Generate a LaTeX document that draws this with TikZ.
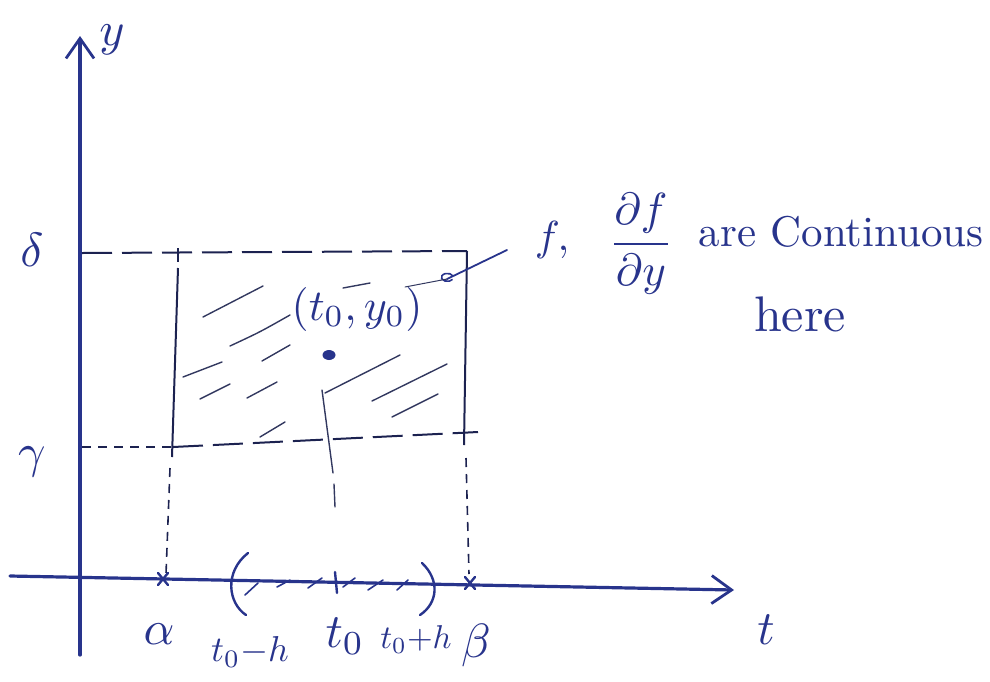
\documentclass[tikz,border=0pt]{standalone}
\usepackage{amsmath}
\usetikzlibrary{arrows.meta}
\definecolor{ink}{RGB}{40,52,140}
\definecolor{dark}{RGB}{28,34,80}
\definecolor{hatch}{RGB}{50,56,95}
\tikzset{
  axisline/.style={ink, line width=3.2pt, line cap=round},
  axtip/.style={-{Straight Barb[length=20pt,width=28pt,line width=2.8pt]}},
  rectline/.style={dark, line width=2pt},
  longdash/.style={rectline, dash pattern=on 30pt off 10pt},
  dropdash/.style={rectline, line width=1.6pt, dash pattern=on 9pt off 7pt},
  hatchline/.style={hatch, line width=1.4pt, line cap=round},
  marktick/.style={ink, line width=2.4pt, line cap=round},
  lbl/.style={ink, inner sep=0pt, scale=4.8},
  txt/.style={ink, inner sep=0pt, scale=4.2},
}
\begin{document}
\begin{tikzpicture}[x=1pt,y=-1pt]
\useasboundingbox (0,0) rectangle (990,681);
% axes
\coordinate (ybot) at (80,655);
\coordinate (ytop) at (80,36);
\coordinate (tleft) at (10,576);
\coordinate (tright) at (734,590);
\draw[axisline, axtip] (ybot) -- (ytop);
\draw[axisline, axtip] (tleft) -- (tright);
\node[lbl] (ylab) at (112,40) {$y$};
\node[lbl] (tlab) at (766,630) {$t$};
% left labels
\node[lbl] (delta) at (32,250) {$\delta$};
\node[lbl] (gamma) at (32,462) {$\gamma$};
% rectangle corners
\coordinate (TL) at (82,253);
\coordinate (TR) at (467,251);
\coordinate (BRr) at (464,445);
\coordinate (LT) at (178,268);
\coordinate (LB) at (172,457);
\coordinate (BL) at (82,447);
\coordinate (BM) at (173,447);
\coordinate (BR) at (478,432);
% top dashed line
\draw[longdash] (TL) -- (TR);
% right side
\draw[rectline] (TR) -- (BRr);
\draw[dropdash] (466,458) -- (469,574);
% left side
\draw[rectline] (178,248) -- (178,262);
\draw[rectline] (LT) -- (LB);
\draw[dropdash] (170,468) -- (166,574);
% bottom line
\draw[dropdash] (BL) -- (BM);
\draw[longdash] (BM) -- (BR);
% middle vertical
\draw[hatchline] (322,390) -- (333,473);
\draw[hatchline] (334,484) -- (335,507);
% hatching
\draw[hatchline] (203,317) -- (263,286);
\draw[hatchline] (230,346) .. controls (260,332) .. (290,315);
\draw[hatchline] (343,288) -- (370,283);
\draw[hatchline] (183,377) -- (222,362);
\draw[hatchline] (262,361) -- (290,345);
\draw[hatchline] (200,399) -- (230,384);
\draw[hatchline] (247,398) -- (277,382);
\draw[hatchline] (260,437) -- (285,422);
\draw[hatchline] (325,393) -- (400,355);
\draw[hatchline] (372,401) -- (447,364);
\draw[hatchline] (392,417) -- (438,394);
% initial point
\fill[ink] (329,355) ellipse (6.5pt and 5pt);
\node[lbl, scale=4.4/4.8] (pt) at (357,309) {$(t_0,y_0)$};
% annotation text
\node[txt] (fcomma) at (552,240) {$f,$};
\node[txt, scale=4.5/4.2] (frac) at (641,244) {$\dfrac{\partial f}{\partial y}$};
\node[txt, scale=4.3/4.2, anchor=west] (cont) at (698,232) {are Continuous};
\node[txt, scale=5/4.2] (here) at (800,314) {here};
% leader
\coordinate (lead) at (447,279);
\coordinate (leadend) at (405,287);
\draw[ink, line width=1.8pt, line cap=round] (507,250) -- (lead);
\draw[ink, line width=1.6pt] (lead) ++(6,-3) arc (20:330:6pt and 4pt);
\draw[hatchline, line width=1pt] (lead) -- (leadend);
% axis marks
\draw[marktick] (158,573) -- (168,585) (168,573) -- (158,585);
\draw[marktick] (465,577) -- (475,589) (475,577) -- (465,589);
\draw[marktick] (335,572) -- (337,593);
\draw[marktick] (248,553) .. controls (224,572) and (228,603) .. (246,615);
\draw[marktick] (422,563) .. controls (440,580) and (438,603) .. (420,615);
\draw[marktick, line width=1.6pt] (245,595) -- (258,583);
\draw[marktick, line width=1.6pt] (277,587) -- (290,580);
\draw[marktick, line width=1.6pt] (308,588) -- (322,578);
\draw[marktick, line width=1.6pt] (343,587) -- (355,578);
\draw[marktick, line width=1.6pt] (368,590) -- (383,580);
\draw[marktick, line width=1.6pt] (397,590) -- (408,580);
% bottom labels
\node[lbl] (alpha) at (159,634) {$\alpha$};
\node[txt, scale=3.6/4.2] (tmh) at (250,652) {$t_0{-}h$};
\node[lbl] (tzero) at (345,636) {$t_0$};
\node[txt, scale=3.3/4.2] (tph) at (416,640) {$t_0{+}h$};
\node[lbl] (beta) at (476,645) {$\beta$};
\end{tikzpicture}
\end{document}
